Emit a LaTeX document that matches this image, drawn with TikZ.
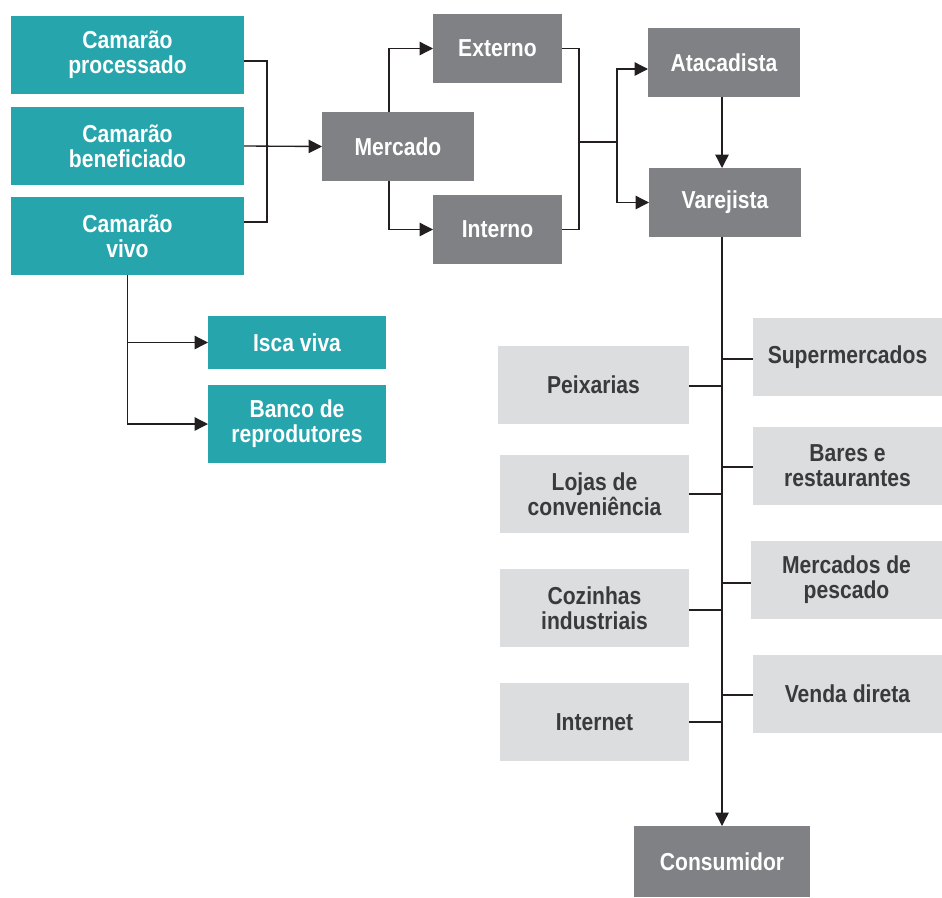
\documentclass[tikz,border=0pt]{standalone}
\usepackage{fontspec}
\setmainfont{Liberation Sans}[FakeStretch=0.86]
\usetikzlibrary{arrows.meta}
\definecolor{tealc}{HTML}{27A5AC}
\definecolor{darkg}{HTML}{808184}
\definecolor{lightg}{HTML}{DCDDDF}
\definecolor{txtd}{HTML}{3A3A3A}
\definecolor{linec}{HTML}{231F20}
\newcommand\mybox[7]{\node[#1, minimum width={(#5-#3)*0.75pt}, minimum height={(#6-#4)*0.75pt}] (#2) at ({(#3+#5)/2},{(#4+#6)/2}) {#7};}
\begin{document}
\begin{tikzpicture}[x=0.75pt,y=-0.75pt,
  base/.style={rectangle, inner sep=0pt, outer sep=0pt, align=center,
    font=\fontsize{18.4pt}{18.6pt}\selectfont\bfseries},
  tealbox/.style={base, fill=tealc, text=white},
  darkbox/.style={base, fill=darkg, text=white},
  lightbox/.style={base, fill=lightg, text=txtd},
  ln/.style={draw=linec, line width=1pt},
  arr/.style={ln, -{Triangle[length=10pt,width=10pt]}}]
\useasboundingbox (0,0) rectangle (942,897);
% teal boxes
\mybox{tealbox}{proc}{11}{16}{244}{94}{Camarão\\processado}
\mybox{tealbox}{bene}{11}{107}{244}{185}{Camarão\\beneficiado}
\mybox{tealbox}{vivo}{11}{197}{244}{275}{Camarão\\vivo}
\mybox{tealbox}{isca}{208}{316}{386}{369}{Isca viva}
\mybox{tealbox}{banco}{208}{385}{386}{463}{Banco de\\reprodutores}
% dark boxes
\mybox{darkbox}{merc}{322}{112}{474}{181}{Mercado}
\mybox{darkbox}{ext}{433}{14}{562}{83}{Externo}
\mybox{darkbox}{int}{433}{195}{562}{264}{Interno}
\mybox{darkbox}{ata}{648}{28}{800}{97}{Atacadista}
\mybox{darkbox}{var}{649}{168}{801}{237}{Varejista}
\mybox{darkbox}{cons}{634}{826}{810}{897}{Consumidor}
% light boxes
\mybox{lightbox}{peix}{498}{346}{689}{424}{Peixarias}
\mybox{lightbox}{lojas}{500}{455}{689}{533}{Lojas de\\conveniência}
\mybox{lightbox}{coz}{500}{569}{689}{647}{Cozinhas\\industriais}
\mybox{lightbox}{inet}{500}{683}{689}{761}{Internet}
\mybox{lightbox}{sup}{753}{318}{942}{396}{Supermercados}
\mybox{lightbox}{bares}{753}{427}{942}{505}{Bares e\\restaurantes}
\mybox{lightbox}{mpes}{751}{541}{942}{619}{Mercados de\\pescado}
\mybox{lightbox}{venda}{753}{655}{942}{733}{Venda direta}
% junctions
\coordinate (jA) at (267,147);
\coordinate (jB) at (579,142);
\coordinate (jC) at (617,142);
% connectors
\draw[ln] (proc.east |- 0,61) -| (jA) |- (vivo.east |- 0,222);
\draw[arr] (bene.east) -- (merc.west);
\draw[arr] (merc.north -| 389,0) |- (ext.west);
\draw[arr] (merc.south -| 389,0) |- (int.west);
\draw[ln] (ext.east) -| (jB) |- (int.east);
\draw[ln] (jB) -- (jC);
\draw[arr] (jC) |- (ata.west |- 0,69);
\draw[arr] (jC) |- (var.west);
\draw[arr] (ata.south -| cons.north) -- (var.north -| cons.north);
\draw[arr] (var.south -| cons.north) -- (cons.north);
\draw[arr] (vivo.south) |- (isca.west);
\draw[arr] (vivo.south) |- (banco.west);
% retail branches
\draw[ln] (peix.east |- 0,386) -- (cons.north |- 0,386);
\draw[ln] (lojas.east |- 0,494) -- (cons.north |- 0,494);
\draw[ln] (coz.east |- 0,610) -- (cons.north |- 0,610);
\draw[ln] (inet.east |- 0,722) -- (cons.north |- 0,722);
\draw[ln] (cons.north |- 0,359) -- (sup.west |- 0,359);
\draw[ln] (cons.north |- 0,467) -- (bares.west |- 0,467);
\draw[ln] (cons.north |- 0,583) -- (mpes.west |- 0,583);
\draw[ln] (cons.north |- 0,695) -- (venda.west |- 0,695);
\end{tikzpicture}
\end{document}
